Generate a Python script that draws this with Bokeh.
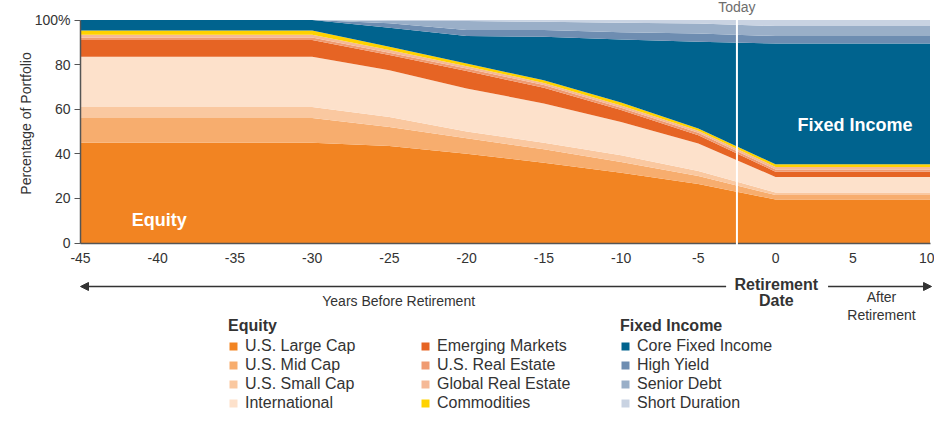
import math
from bokeh.plotting import figure
from bokeh.models import (Range1d, Label, Arrow, NormalHead, Span, Legend,
                          LegendItem, ColumnDataSource)
from bokeh.embed import file_html
from bokeh.resources import INLINE

# ---------------- data (percent of portfolio) ----------------
years = [-45, -30, -25, -20, -15, -10, -5, 0, 10]

us_large_cap       = [45.0, 45.0, 43.5, 40.0, 36.0, 31.5, 26.5, 19.5, 19.5]
us_mid_cap         = [11.0, 11.0, 8.5, 7.0, 6.0, 4.8, 3.5, 2.0, 2.0]
us_small_cap       = [5.0, 5.0, 4.5, 3.0, 3.0, 3.0, 2.3, 1.1, 1.1]
international      = [22.5, 22.5, 21.0, 19.3, 17.6, 15.0, 12.3, 7.0, 7.0]
emerging_markets   = [7.5, 7.5, 6.8, 7.8, 7.0, 5.3, 3.7, 2.4, 2.4]
us_real_estate     = [1.2, 1.2, 1.0, 1.2, 1.2, 1.0, 1.1, 1.0, 1.0]
global_real_estate = [1.2, 1.2, 1.2, 1.0, 1.0, 1.1, 0.9, 1.1, 1.1]
commodities        = [1.9, 1.9, 1.5, 1.2, 1.2, 1.3, 1.0, 1.2, 1.2]
core_fixed_income  = [4.7, 4.7, 8.5, 12.3, 19.5, 28.3, 38.9, 54.2, 54.2]
high_yield         = [0.0, 0.0, 2.0, 2.7, 3.0, 3.2, 3.8, 3.3, 3.3]
senior_debt        = [0.0, 0.0, 1.0, 4.0, 3.7, 4.3, 4.4, 4.5, 4.5]
short_duration     = [0.0, 0.0, 0.5, 0.5, 0.8, 1.2, 1.6, 2.7, 2.7]

equity_names = ["U.S. Large Cap", "U.S. Mid Cap", "U.S. Small Cap", "International"]
equity_names2 = ["Emerging Markets", "U.S. Real Estate", "Global Real Estate", "Commodities"]
fixed_names = ["Core Fixed Income", "High Yield", "Senior Debt", "Short Duration"]

x_ticks = [-45, -40, -35, -30, -25, -20, -15, -10, -5, 0, 5, 10]
x_tick_labels = ["-45", "-40", "-35", "-30", "-25", "-20", "-15", "-10", "-5", "0", "5", "10"]
y_ticks = [0, 20, 40, 60, 80, 100]
y_tick_labels = ["0", "20", "40", "60", "80", "100%"]
today = -2.5

colors = ["#F28422", "#F7AD6E", "#FAC8A0", "#FDE1CB",
          "#E66424", "#EF9B72", "#F5B997", "#FFD200",
          "#00638E", "#6E8DB1", "#9AAFC8", "#C9D3E2"]

series = [us_large_cap, us_mid_cap, us_small_cap, international,
          emerging_markets, us_real_estate, global_real_estate, commodities,
          core_fixed_income, high_yield, senior_debt, short_duration]
keys = ["s%d" % i for i in range(len(series))]

data = {"x": years}
for k, s in zip(keys, series):
    data[k] = s
source = ColumnDataSource(data)

FONT = "Liberation Sans"
TXT = "#333333"

# the frame spans the whole canvas so every annotation is drawn inside it
W, H = 934, 411
PY = 2.23            # px per percent  (100 -> 19.5px, 0 -> 242.5px)
PXX = 849.5 / 55.0   # px per year     (-45 -> 80px, 10 -> 929.5px)
y_top = 100 + 19.5 / PY
y_bot = -(H - 242.5) / PY
x_lo = -45 - 80 / PXX
x_hi = -45 + (W - 80) / PXX

p = figure(width=W, height=H, output_backend="svg", toolbar_location=None,
           x_range=Range1d(x_lo, x_hi), y_range=Range1d(y_bot, y_top),
           min_border_left=0, min_border_right=0, min_border_top=0,
           min_border_bottom=0)
p.outline_line_color = None
p.xgrid.visible = False
p.ygrid.visible = False

renderers = p.varea_stack(stackers=keys, x="x", color=colors, source=source)

# axes (fixed inside the frame)
p.xaxis.fixed_location = 0
p.xaxis.bounds = (-45, 10)
p.xaxis.ticker = x_ticks
p.xaxis.major_label_overrides = dict(zip(x_ticks, x_tick_labels))
p.xaxis.major_tick_line_color = None
p.xaxis.minor_tick_line_color = None
p.xaxis.major_tick_out = 0
p.xaxis.major_tick_in = 0
p.xaxis.major_label_standoff = 10
p.xaxis.axis_line_color = "#555555"
p.xaxis.axis_line_width = 1.5
p.xaxis.major_label_text_font = FONT
p.xaxis.major_label_text_font_size = "14px"
p.xaxis.major_label_text_color = TXT

p.yaxis.fixed_location = -45
p.yaxis.bounds = (0, 100)
p.yaxis.ticker = y_ticks
p.yaxis.major_label_overrides = dict(zip(y_ticks, y_tick_labels))
p.yaxis.minor_tick_line_color = None
p.yaxis.major_tick_out = 6
p.yaxis.major_tick_in = 0
p.yaxis.major_tick_line_color = "#555555"
p.yaxis.major_label_standoff = 4
p.yaxis.axis_line_color = "#555555"
p.yaxis.axis_line_width = 1.5
p.yaxis.major_label_text_font = FONT
p.yaxis.major_label_text_font_size = "14px"
p.yaxis.major_label_text_color = TXT

# y axis title
p.add_layout(Label(x=-45 - (80 - 25) / PXX, y=(242.5 - 123) / PY,
                   text="Percentage of Portfolio", angle=math.pi / 2,
                   text_align="center", text_baseline="middle", text_font=FONT,
                   text_font_size="14px", text_color=TXT))

# today line
p.add_layout(Span(location=today, dimension="height", line_color="white", line_width=2))
p.add_layout(Label(x=today, y=y_top + 2 / PY, text="Today", text_align="center",
                   text_baseline="top", text_font=FONT, text_font_size="14px",
                   text_color="#6d6d6d", background_fill_color="white"))

# in-chart labels
p.add_layout(Label(x=-39.9, y=10.1, text="Equity", text_align="center",
                   text_baseline="middle", text_font=FONT, text_font_size="18px",
                   text_font_style="bold", text_color="white"))
p.add_layout(Label(x=5.15, y=52.8, text="Fixed Income", text_align="center",
                   text_baseline="middle", text_font=FONT, text_font_size="18px",
                   text_font_style="bold", text_color="white"))

# timeline arrows below axis
ya = -19.5
p.add_layout(Arrow(x_start=-3.2, y_start=ya, x_end=-45, y_end=ya,
                   line_color="#333333", line_width=1.5,
                   end=NormalHead(size=8, fill_color="#333333", line_color="#333333")))
p.add_layout(Arrow(x_start=3.4, y_start=ya, x_end=10.1, y_end=ya,
                   line_color="#333333", line_width=1.5,
                   end=NormalHead(size=8, fill_color="#333333", line_color="#333333")))

def lab(x, y, t, size="14px", style="normal"):
    p.add_layout(Label(x=x, y=y, text=t, text_align="center", text_baseline="middle",
                       text_font=FONT, text_font_size=size, text_font_style=style,
                       text_color=TXT))

lab(0.05, -18.6, "Retirement", "16px", "bold")
lab(0.05, -25.8, "Date", "16px", "bold")
lab(-24.4, -26.2, "Years Before Retirement")
lab(6.86, -24.4, "After")
lab(6.86, -32.1, "Retirement")

# legends
def make_legend(names, rends, title, loc):
    items = [LegendItem(label=n, renderers=[r]) for n, r in zip(names, rends)]
    leg = Legend(items=items, location=loc, orientation="vertical",
                 label_text_font=FONT, label_text_font_size="16px",
                 label_text_color=TXT, glyph_width=10, glyph_height=10,
                 label_standoff=7, label_height=19, spacing=0, padding=0,
                 margin=0, border_line_color=None, background_fill_alpha=0)
    if title:
        leg.title = title
        leg.title_text_font = FONT
        leg.title_text_font_size = "16px"
        leg.title_text_font_style = "bold"
        leg.title_text_color = TXT
        leg.title_standoff = 1
    p.add_layout(leg)

make_legend(equity_names, renderers[0:4], "Equity", (228, -1))
make_legend(equity_names2, renderers[4:8], None, (420, -1))
make_legend(fixed_names, renderers[8:12], "Fixed Income", (620, -1))

open("out.html", "w").write(file_html(p, INLINE))
